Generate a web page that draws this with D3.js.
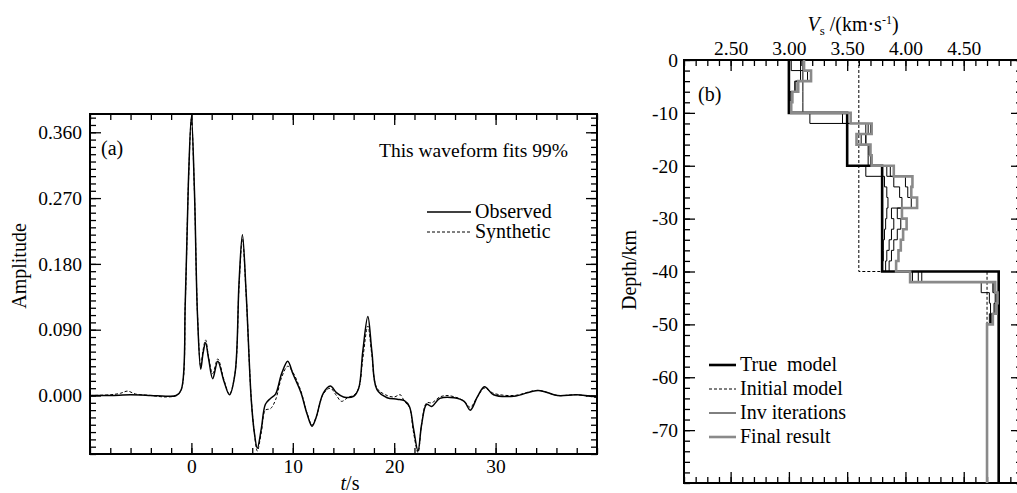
<!DOCTYPE html>
<html><head><meta charset="utf-8">
<script src="https://cdn.jsdelivr.net/npm/d3@7"></script>
<style>
html,body{margin:0;padding:0;background:#fff;}
svg{display:block;}
</style></head>
<body>
<svg id="chart" width="1017" height="493"></svg>
<script>
// ---------- Panel (a) data: waveforms ----------
const tObs = [-10,-8,-6,-4,-2.5,-1.5,-1.0,-0.6,-0.3,0,0.3,0.6,0.92,1.15,1.4,1.7,2.1,2.6,3.2,3.75,4.3,4.7,5.03,5.4,5.9,6.2,6.5,6.9,7.3,7.8,8.3,8.9,9.5,10.0,10.8,11.4,11.9,12.3,13.0,13.7,14.3,15.0,16.0,16.5,16.9,17.4,17.8,18.3,19.3,20.3,21.0,21.5,21.9,22.35,22.7,23.2,23.7,24.5,25.9,26.9,27.5,28.2,28.9,29.8,31.8,34.2,36.1,38.0,40];
const aObs = [0,0,0.001,0,-0.001,0,0.008,0.13,0.29,0.382,0.28,0.11,0.036,0.058,0.072,0.05,0.023,0.047,0.02,0.001,0.03,0.155,0.22,0.14,-0.005,-0.05,-0.072,-0.045,-0.012,-0.004,0.002,0.03,0.047,0.03,0.004,-0.025,-0.042,-0.03,0.003,0.013,0.004,-0.002,-0.001,0.01,0.06,0.108,0.06,0.008,-0.003,-0.005,-0.007,-0.015,-0.045,-0.076,-0.04,-0.012,-0.015,-0.004,-0.003,-0.008,-0.020,-0.002,0.012,0.001,-0.001,0.007,0,0.001,-0.002];
const tSyn = [-10,-8,-7,-6.3,-5.5,-4,-2.5,-1.5,-1.0,-0.6,-0.3,0,0.3,0.6,0.92,1.15,1.4,1.7,2.1,2.6,3.2,3.75,4.3,4.7,5.03,5.4,5.9,6.2,6.5,6.9,7.3,7.8,8.3,8.9,9.5,10.0,10.8,11.4,11.9,12.3,13.0,13.7,14.3,14.8,15.5,16.0,16.5,16.9,17.4,17.8,18.3,19.3,20.0,20.6,21.0,21.5,21.9,22.35,22.7,23.2,23.7,24.5,25.2,26.2,26.9,27.5,28.2,28.9,29.8,31.8,34.2,36.1,38.0,40];
const aSyn = [0,0.001,0.003,0.006,0.002,0,-0.002,0,0.008,0.128,0.287,0.378,0.278,0.112,0.04,0.062,0.076,0.052,0.03,0.05,0.022,0.002,0.03,0.15,0.214,0.138,-0.004,-0.05,-0.076,-0.05,-0.02,-0.018,-0.006,0.025,0.04,0.032,0.006,-0.024,-0.04,-0.03,0.002,0.01,0.0,-0.008,-0.002,0.0,0.01,0.05,0.095,0.055,0.01,0.0,-0.002,0.001,-0.008,-0.016,-0.05,-0.078,-0.04,-0.01,-0.01,-0.002,0.0,-0.003,-0.008,-0.016,-0.002,0.01,0.003,0.0,0.007,0.0,0.001,-0.003];
const ampTicks = [0, 0.09, 0.18, 0.27, 0.36];
const timeTicks = [0, 10, 20, 30];
const legendA = ["Observed", "Synthetic"];
const fitText = "This waveform fits 99%";

// ---------- Panel (b) data: velocity models ----------
const trueDepths = [0, -10, -20, -40, -80];
const trueVs = [3.0, 3.5, 3.8, 4.8];
const initDepths = [0, -40, -80];
const initVs = [3.6, 4.7];
const layerDepths = [0,-2,-4,-6,-8,-10,-12,-14,-16,-18,-20,-22,-24,-26,-28,-30,-32,-34,-36,-38,-40,-42,-44,-46,-48,-50,-80];
const iter1Vs = [3.12,3.12,3.12,3.12,3.12, 3.18, 3.66,3.66,3.68,3.68, 3.66, 3.82,3.84,3.85,3.84,3.83,3.82,3.81,3.81,3.80, 4.14, 4.65,4.72,4.73,4.72, 4.70];
const iter2Vs = [3.02,3.10,3.05,3.01,3.01, 3.46, 3.68,3.66,3.69,3.70, 3.84, 3.90,3.95,3.97,3.88,3.90,3.88,3.86,3.84,3.83, 4.11, 4.75,4.77,4.76,4.73, 4.70];
const iter3Vs = [3.10,3.16,3.06,3.02,3.02, 3.50, 3.70,3.62,3.70,3.71, 3.87, 4.00,4.02,4.05,3.93,3.96,3.93,3.90,3.88,3.86, 4.06, 4.76,4.78,4.77,4.74, 4.70];
const finalVs = [3.13,3.19,3.08,3.03,3.02, 3.53, 3.71,3.58,3.70,3.71, 3.90, 4.06,4.05,4.10,3.97,4.01,3.98,3.96,3.94,3.92, 4.04, 4.77,4.79,4.78,4.75, 4.70];
const vsTicks = [2.5, 3.0, 3.5, 4.0, 4.5];
const depthTicks = [0,-10,-20,-30,-40,-50,-60,-70];
const legendB = ["True  model", "Initial model", "Inv iterations", "Final result"];

const svg = d3.select("#chart");
const FS = 19.5;
const FONT = "'Liberation Serif'";

// ================= Panel (a) =================
const A = {l: 90, r: 597, t: 114, b: 454};
const xA = d3.scaleLinear().domain([-10, 40]).range([A.l, A.r]);
const yA = d3.scaleLinear().domain([-0.08, 0.385]).range([A.b, A.t]);
const gA = svg.append("g");

gA.append("clipPath").attr("id","clipA").append("rect")
  .attr("x",A.l).attr("y",A.t).attr("width",A.r-A.l).attr("height",A.b-A.t);

const minorT = d3.range(-10, 41, 2);
const minorAmp = d3.range(-8, 39).map(d => d/100);

function styleAxis(g){
  g.select(".domain").remove();
  g.attr("font-family", null).attr("font-size", null);
  g.selectAll("line").attr("stroke","#000").attr("stroke-width",1.3);
  g.selectAll("text").attr("fill","#000").attr("font-family", FONT).attr("font-size", FS);
}
function txt(g, x, y, size){
  return g.append("text").attr("x",x).attr("y",y).attr("font-family",FONT).attr("font-size",size).attr("fill","#000");
}

// bottom
gA.append("g").attr("transform",`translate(0,${A.b})`)
  .call(d3.axisBottom(xA).tickValues(minorT).tickSize(-6).tickFormat("")).call(styleAxis);
gA.append("g").attr("transform",`translate(0,${A.b})`)
  .call(d3.axisBottom(xA).tickValues(timeTicks).tickSize(-11).tickPadding(5).tickFormat(d=>d)).call(styleAxis);
// top
gA.append("g").attr("transform",`translate(0,${A.t})`)
  .call(d3.axisTop(xA).tickValues(minorT).tickSize(-6).tickFormat("")).call(styleAxis);
gA.append("g").attr("transform",`translate(0,${A.t})`)
  .call(d3.axisTop(xA).tickValues(timeTicks).tickSize(-11).tickFormat("")).call(styleAxis);
// left
gA.append("g").attr("transform",`translate(${A.l},0)`)
  .call(d3.axisLeft(yA).tickValues(minorAmp).tickSize(-6).tickFormat("")).call(styleAxis);
gA.append("g").attr("transform",`translate(${A.l},0)`)
  .call(d3.axisLeft(yA).tickValues(ampTicks).tickSize(-11).tickPadding(8).tickFormat(d3.format(".3f"))).call(styleAxis);
// right
gA.append("g").attr("transform",`translate(${A.r},0)`)
  .call(d3.axisRight(yA).tickValues(minorAmp).tickSize(-6).tickFormat("")).call(styleAxis);
gA.append("g").attr("transform",`translate(${A.r},0)`)
  .call(d3.axisRight(yA).tickValues(ampTicks).tickSize(-11).tickFormat("")).call(styleAxis);

gA.append("rect").attr("x",A.l).attr("y",A.t).attr("width",A.r-A.l).attr("height",A.b-A.t)
  .attr("fill","none").attr("stroke","#000").attr("stroke-width",2);

const lineA = d3.line().x(d=>xA(d[0])).y(d=>yA(d[1])).curve(d3.curveCatmullRom.alpha(0.5));
gA.append("path").datum(tSyn.map((t,i)=>[t,aSyn[i]])).attr("d",lineA)
  .attr("clip-path","url(#clipA)").attr("fill","none").attr("stroke","#000").attr("stroke-width",1).attr("stroke-dasharray","3,2");
gA.append("path").datum(tObs.map((t,i)=>[t,aObs[i]])).attr("d",lineA)
  .attr("clip-path","url(#clipA)").attr("fill","none").attr("stroke","#000").attr("stroke-width",1.5);

// labels
txt(gA, 0, 0, FS+0.5).attr("transform","translate(26,266) rotate(-90)").attr("text-anchor","middle").text("Amplitude");
const tl = txt(gA, 350, 490, FS+0.5).attr("text-anchor","middle");
tl.append("tspan").attr("font-style","italic").text("t");
tl.append("tspan").text("/s");
txt(gA, 101, 155, FS+0.5).text("(a)");
txt(gA, 568, 157, FS).attr("text-anchor","end").text(fitText);
// legend (a)
legendA.forEach((name,i)=>{
  const yy = 212 + i*20;
  gA.append("line").attr("x1",427).attr("x2",471).attr("y1",yy).attr("y2",yy)
    .attr("stroke","#000").attr("stroke-width", i===0?1.5:1).attr("stroke-dasharray", i===0?null:"3,2");
  txt(gA, 475, yy+6, FS+0.5).text(name);
});

// ================= Panel (b) =================
const B = {l: 684, r: 1022, t: 60, b: 483};
const xB = d3.scaleLinear().domain([2.1, 5.0]).range([B.l, B.r]);
const yB = d3.scaleLinear().domain([0, -80]).range([B.t, B.b]);
const gB = svg.append("g");

const minorVs = d3.range(21, 51).map(d=>d/10);
const minorDepth = d3.range(0, -81, -2);

gB.append("g").attr("transform",`translate(0,${B.t})`)
  .call(d3.axisTop(xB).tickValues(minorVs).tickSize(-6).tickFormat("")).call(styleAxis);
gB.append("g").attr("transform",`translate(0,${B.t})`)
  .call(d3.axisTop(xB).tickValues(vsTicks).tickSize(-11).tickPadding(5).tickFormat(d3.format(".2f"))).call(styleAxis);
gB.append("g").attr("transform",`translate(0,${B.b})`)
  .call(d3.axisBottom(xB).tickValues(minorVs).tickSize(-6).tickFormat("")).call(styleAxis);
gB.append("g").attr("transform",`translate(0,${B.b})`)
  .call(d3.axisBottom(xB).tickValues(vsTicks).tickSize(-11).tickFormat("")).call(styleAxis);
gB.append("g").attr("transform",`translate(${B.l},0)`)
  .call(d3.axisLeft(yB).tickValues(minorDepth).tickSize(-6).tickFormat("")).call(styleAxis);
gB.append("g").attr("transform",`translate(${B.l},0)`)
  .call(d3.axisLeft(yB).tickValues(depthTicks).tickSize(-11).tickPadding(6).tickFormat(d=>String(d))).call(styleAxis);
gB.append("g").attr("transform",`translate(${B.r},0)`)
  .call(d3.axisRight(yB).tickValues(minorDepth).tickSize(-6).tickFormat("")).call(styleAxis);
gB.append("g").attr("transform",`translate(${B.r},0)`)
  .call(d3.axisRight(yB).tickValues(depthTicks).tickSize(-11).tickFormat("")).call(styleAxis);

gB.append("rect").attr("x",B.l).attr("y",B.t).attr("width",B.r-B.l).attr("height",B.b-B.t)
  .attr("fill","none").attr("stroke","#000").attr("stroke-width",2);

function stepPts(depths, vs){
  const pts = [];
  vs.forEach((v,i)=>{ pts.push([v, depths[i]]); pts.push([v, depths[i+1]]); });
  return pts;
}
const lineB = d3.line().x(d=>xB(d[0])).y(d=>yB(d[1]));
function drawProfile(pts, opts){
  gB.append("path").datum(pts).attr("d",lineB).attr("fill","none")
    .attr("stroke",opts.c).attr("stroke-width",opts.w).attr("stroke-dasharray",opts.dash||null)
    .attr("stroke-linejoin","miter");
}
drawProfile(stepPts(initDepths, initVs), {c:"#000", w:1, dash:"3,2"});
[iter1Vs, iter2Vs, iter3Vs].forEach(v => drawProfile(stepPts(layerDepths, v), {c:"#000", w:1}));
drawProfile(stepPts(trueDepths, trueVs), {c:"#000", w:2.6});
drawProfile(stepPts(layerDepths, finalVs), {c:"#8a8a8a", w:2.6});

// title
const tt = txt(gB, 853, 31, FS+0.5).attr("text-anchor","middle");
tt.append("tspan").attr("font-style","italic").text("V");
tt.append("tspan").attr("font-size",13).attr("dy",4).text("s");
tt.append("tspan").attr("dy",-4).text(" /(km·s");
tt.append("tspan").attr("font-size",12).attr("dy",-7).text("-1");
tt.append("tspan").attr("dy",7).text(")");
txt(gB, 0, 0, FS+0.5).attr("transform","translate(636,270) rotate(-90)").attr("text-anchor","middle").text("Depth/km");
txt(gB, 698, 101, FS+0.5).text("(b)");

// legend (b)
const legStyles = [{c:"#000",w:2.6},{c:"#000",w:1,dash:"3,2"},{c:"#000",w:1},{c:"#8a8a8a",w:2.6}];
legendB.forEach((name,i)=>{
  const yy = 365 + i*24;
  const s = legStyles[i];
  gB.append("line").attr("x1",709).attr("x2",736).attr("y1",yy).attr("y2",yy)
    .attr("stroke",s.c).attr("stroke-width",s.w).attr("stroke-dasharray",s.dash||null);
  txt(gB, 740, yy+6, FS+0.5).style("white-space","pre").text(name);
});
</script>
</body></html>
